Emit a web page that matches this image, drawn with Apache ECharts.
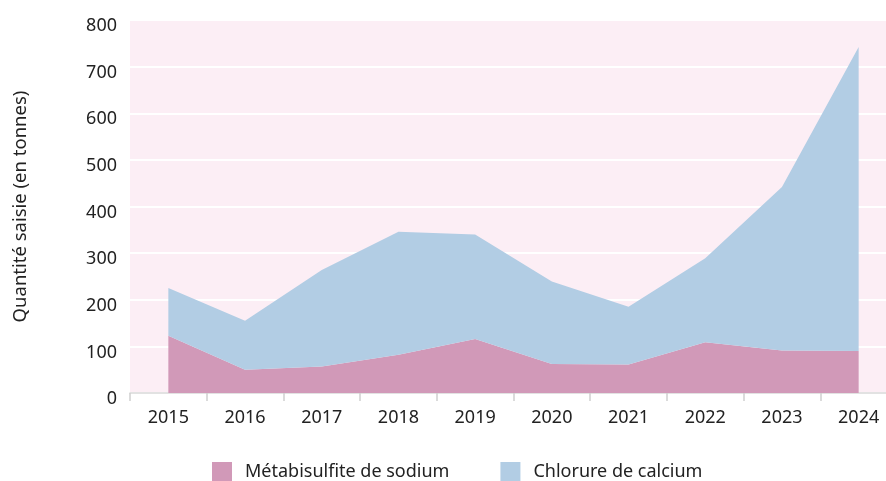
<!DOCTYPE html>
<html><head><meta charset="utf-8">
<script src="https://cdn.jsdelivr.net/npm/echarts@6/dist/echarts.min.js"></script>
<style>html,body{margin:0;padding:0;background:#fff}#c{width:886px;height:481px}</style>
</head><body><div id="c"></div>
<script>
const years = ['2015','2016','2017','2018','2019','2020','2021','2022','2023','2024'];
const metabisulfite = [123, 50, 57, 82, 116, 62, 61, 109, 91, 90];
const chlorure = [102, 105, 207, 264, 224, 177, 124, 180, 351, 652];
const yTicks = [0, 100, 200, 300, 400, 500, 600, 700, 800];
const font = 'Noto Sans';
const chart = echarts.init(document.getElementById('c'), null, {renderer:'canvas'});
chart.setOption({
  animation:false,
  textStyle:{fontFamily:font},
  grid:{left:130, width:767, top:20, bottom:88, show:true, backgroundColor:'#fceef5', borderWidth:0,
        outerBoundsMode:'none', containLabel:false},
  legend:{
    top:457, left:207, itemWidth:20, itemHeight:20, itemGap:51, icon:'rect',
    textStyle:{fontSize:18, color:'#222', fontFamily:font, padding:[0,0,0,8]},
    data:['Métabisulfite de sodium','Chlorure de calcium']
  },
  xAxis:{
    type:'category', data:years, boundaryGap:true,
    axisLine:{lineStyle:{color:'#d9d9d9', width:1.5}},
    axisTick:{show:true, length:8, lineStyle:{color:'#d0d0d0', width:1.5}},
    axisLabel:{fontSize:18, color:'#222', margin:16, fontFamily:font}
  },
  yAxis:{
    type:'value', min:yTicks[0], max:yTicks[yTicks.length-1], interval:100,
    name:'Quantité saisie (en tonnes)', nameLocation:'middle', nameGap:100, nameRotate:90,
    nameTextStyle:{fontSize:18.5, color:'#222', fontFamily:font},
    axisLine:{show:false}, axisTick:{show:false},
    axisLabel:{fontSize:18, color:'#222', margin:13, fontFamily:font, verticalAlign:'top', lineHeight:12},
    splitLine:{lineStyle:{color:'#ffffff', width:2}}
  },
  series:[
    {name:'Métabisulfite de sodium', type:'line', stack:'t', data:metabisulfite, symbol:'none',
     lineStyle:{width:0}, itemStyle:{color:'#d199b8'}, areaStyle:{color:'#d199b8', opacity:1}},
    {name:'Chlorure de calcium', type:'line', stack:'t', data:chlorure, symbol:'none',
     lineStyle:{width:0}, itemStyle:{color:'#b2cde4'}, areaStyle:{color:'#b2cde4', opacity:1}}
  ]
});
</script></body></html>
